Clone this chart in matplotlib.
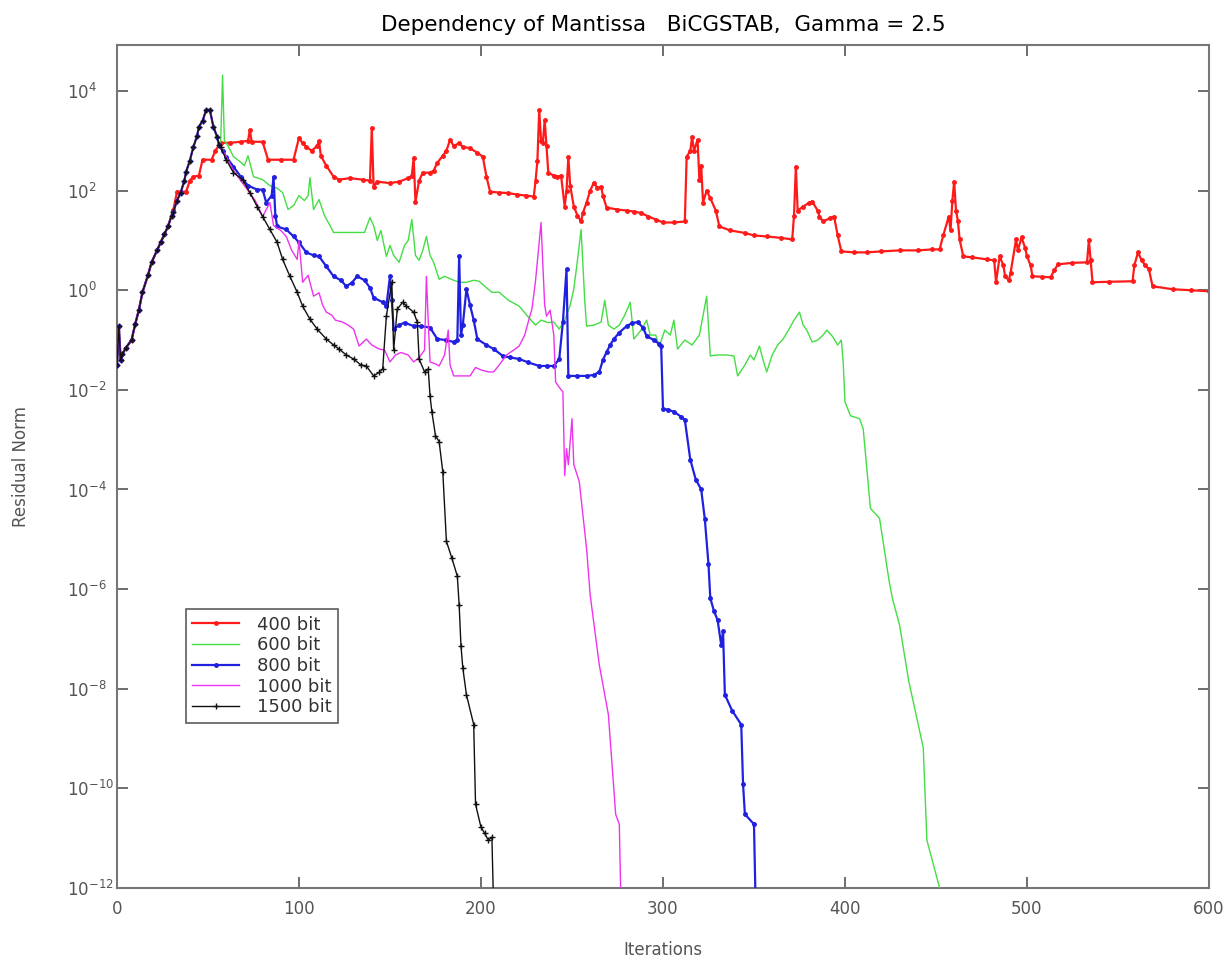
import matplotlib
matplotlib.use("Agg")
import matplotlib.pyplot as plt
from matplotlib.ticker import NullLocator
import numpy as np

plt.rcParams['font.family'] = ['DejaVu Sans']
plt.rcParams['mathtext.default'] = 'regular'

# common start of every run (iteration, log10 residual)
start_it = [0, 1, 2, 3, 5, 8, 10, 12, 14, 17, 19, 22, 24, 26, 28, 30]
start_lg = [-1.5, -0.72, -1.4, -1.28, -1.15, -1.0, -0.68, -0.4, -0.04, 0.3, 0.56, 0.8, 0.96, 1.12, 1.28, 1.5]

# shared rise up to the peak (all but 400 bit)
peak_it = [31, 33, 35, 37, 38, 40, 42, 44, 45, 47, 49, 51, 53, 55, 56]
peak_lg = [1.58, 1.8, 1.96, 2.2, 2.38, 2.6, 2.88, 3.1, 3.28, 3.4, 3.62, 3.62, 3.28, 3.08, 2.92]

# 400 bit
it400 = [31, 33, 38, 40, 42, 45, 47, 52, 54, 57, 62, 68, 72, 73, 74, 80, 83, 90, 97, 100,
         102, 104, 107, 110, 111, 112, 115, 119, 122, 128, 135, 139, 140, 141, 143, 150, 155, 160, 162, 163,
         164, 166, 168, 172, 174, 176, 179, 181, 183, 185, 188, 190, 194, 198, 201, 203, 205, 210, 215, 220,
         225, 229, 230, 231, 232, 233, 234, 235, 236, 237, 240, 242, 244, 246, 247, 248, 249, 251, 253, 255,
         256, 258, 260, 262, 264, 266, 267, 269, 275, 280, 284, 288, 292, 296, 300, 306, 312, 313, 315, 316,
         317, 319, 320, 321, 322, 324, 326, 329, 331, 337, 345, 350, 357, 365, 371, 372, 373, 374, 377, 380,
         382, 385, 386, 388, 392, 394, 396, 398, 405, 412, 420, 430, 440, 448, 452, 454, 457, 458, 459, 460,
         461, 462, 463, 465, 470, 478, 482, 483, 485, 487, 488, 490, 491, 494, 495, 497, 499, 500, 502, 503,
         508, 513, 515, 517, 525, 533, 534, 535, 536, 545, 558, 559, 561, 563, 565, 567, 569, 580, 590, 600]
lg400 = [1.62, 1.98, 1.98, 2.2, 2.28, 2.3, 2.62, 2.62, 2.8, 2.96, 2.96, 2.98, 3.0, 3.22, 2.98, 2.98, 2.62, 2.62, 2.62, 3.06,
         2.95, 2.88, 2.8, 2.9, 3.0, 2.7, 2.5, 2.28, 2.22, 2.25, 2.22, 2.2, 3.26, 2.08, 2.18, 2.15, 2.18, 2.25, 2.3, 2.66,
         1.78, 2.2, 2.36, 2.36, 2.4, 2.56, 2.7, 2.8, 3.02, 2.9, 2.95, 2.88, 2.85, 2.76, 2.68, 2.28, 1.98, 1.96, 1.95, 1.92,
         1.9, 1.88, 2.2, 2.6, 3.62, 3.0, 2.96, 3.42, 2.9, 2.36, 2.3, 2.28, 2.3, 1.68, 2.0, 2.68, 2.1, 1.68, 1.5, 1.38,
         1.55, 1.76, 2.0, 2.16, 2.05, 2.08, 1.9, 1.66, 1.62, 1.6, 1.58, 1.55, 1.48, 1.42, 1.36, 1.36, 1.38, 2.68, 2.8, 3.08,
         2.8, 3.02, 2.22, 2.5, 1.76, 2.0, 1.85, 1.6, 1.28, 1.2, 1.15, 1.1, 1.08, 1.05, 1.02, 1.5, 2.48, 1.6, 1.68, 1.75,
         1.78, 1.6, 1.48, 1.38, 1.45, 1.48, 1.1, 0.78, 0.76, 0.76, 0.78, 0.8, 0.8, 0.82, 0.82, 1.1, 1.48, 1.2, 1.8, 2.18,
         1.6, 1.4, 1.02, 0.68, 0.66, 0.62, 0.6, 0.16, 0.68, 0.5, 0.28, 0.2, 0.35, 1.02, 0.8, 1.06, 0.85, 0.68, 0.5, 0.28,
         0.27, 0.26, 0.4, 0.52, 0.55, 0.56, 1.0, 0.6, 0.16, 0.17, 0.18, 0.5, 0.76, 0.6, 0.5, 0.42, 0.08, 0.02, 0.0, -0.02]

# 600 bit
it600 = [57, 58, 59, 61, 64, 67, 70, 72, 75, 80, 84, 88, 91, 94, 97, 100, 103, 105, 106, 108,
         111, 114, 117, 119, 125, 130, 136, 139, 141, 143, 145, 148, 150, 152, 155, 158, 160, 162, 164, 166,
         168, 170, 172, 174, 177, 180, 185, 188, 192, 196, 199, 203, 206, 210, 215, 221, 224, 227, 230, 233,
         237, 240, 243, 246, 249, 251, 253, 255, 256, 257, 258, 262, 266, 268, 270, 273, 276, 279, 282, 284,
         288, 291, 293, 296, 298, 301, 304, 306, 308, 312, 316, 320, 324, 326, 330, 335, 339, 341, 345, 348,
         350, 353, 355, 357, 360, 363, 366, 369, 372, 375, 377, 379, 382, 385, 388, 390, 393, 396, 398, 399,
         400, 403, 408, 410, 414, 419, 422, 424, 426, 430, 435, 441, 443, 445, 452, 454]
lg600 = [3.0, 4.32, 3.0, 2.9, 2.68, 2.6, 2.5, 2.7, 2.28, 2.22, 2.1, 2.05, 1.96, 1.62, 1.7, 1.9, 1.8, 1.9, 2.26, 1.62,
         1.82, 1.5, 1.3, 1.16, 1.16, 1.16, 1.16, 1.46, 1.3, 1.0, 1.2, 0.68, 0.9, 0.7, 0.56, 0.9, 1.0, 1.42, 0.7, 0.6,
         0.8, 1.08, 0.7, 0.56, 0.22, 0.28, 0.2, 0.16, 0.16, 0.2, 0.18, 0.05, -0.04, -0.04, -0.2, -0.32, -0.45, -0.58, -0.7, -0.6,
         -0.65, -0.64, -0.78, -0.6, -0.3, 0.02, 0.6, 1.22, 0.5, -0.2, -0.72, -0.7, -0.64, -0.2, -0.7, -0.78, -0.7, -0.5, -0.24, -0.98,
         -0.8, -0.6, -0.9, -0.9, -1.12, -0.8, -0.9, -0.6, -1.18, -1.0, -1.1, -0.9, -0.12, -1.32, -1.3, -1.3, -1.32, -1.72, -1.5, -1.3,
         -1.4, -1.12, -1.4, -1.64, -1.3, -1.1, -0.98, -0.8, -0.6, -0.44, -0.7, -0.8, -1.04, -1.0, -0.9, -0.8, -0.92, -1.1, -1.0, -1.44,
         -2.24, -2.52, -2.58, -2.78, -4.38, -4.58, -5.3, -5.78, -6.18, -6.72, -7.84, -8.84, -9.18, -11.04, -12.0, -12.5]

# 800 bit
it800 = [58, 60, 64, 68, 72, 77, 80, 82, 85, 86, 87, 88, 93, 97, 100, 104, 108, 111, 115, 119,
         123, 126, 129, 132, 136, 139, 141, 146, 148, 150, 151, 152, 155, 158, 163, 167, 172, 176, 181, 185,
         187, 188, 189, 190, 192, 194, 196, 198, 203, 207, 212, 216, 221, 226, 232, 236, 240, 243, 245, 247,
         248, 253, 258, 262, 265, 267, 269, 271, 273, 276, 280, 283, 286, 289, 291, 295, 298, 299, 300, 303,
         306, 310, 312, 315, 318, 321, 323, 325, 326, 328, 330, 332, 333, 334, 338, 343, 344, 345, 350, 351]
lg800 = [2.8, 2.68, 2.48, 2.28, 2.1, 2.02, 2.02, 1.76, 1.9, 2.28, 1.5, 1.28, 1.22, 1.08, 0.96, 0.76, 0.7, 0.68, 0.48, 0.28,
         0.2, 0.08, 0.15, 0.28, 0.2, 0.05, -0.15, -0.24, -0.32, 0.28, -0.2, -0.78, -0.7, -0.65, -0.72, -0.72, -0.75, -0.98, -1.0, -1.04,
         -1.0, 0.68, -0.9, -0.7, 0.02, -0.3, -0.6, -0.98, -1.1, -1.18, -1.32, -1.35, -1.38, -1.45, -1.52, -1.52, -1.52, -1.38, -0.64, 0.42,
         -1.72, -1.72, -1.72, -1.7, -1.64, -1.4, -1.24, -1.1, -0.98, -0.85, -0.72, -0.66, -0.64, -0.75, -0.92, -1.0, -1.08, -1.12, -2.38, -2.4,
         -2.44, -2.54, -2.6, -3.4, -3.8, -4.0, -4.6, -5.5, -6.18, -6.44, -6.62, -7.12, -6.84, -8.12, -8.44, -8.72, -9.92, -10.52, -10.72, -12.5]

# 1000 bit
it1000 = [58, 60, 64, 68, 72, 76, 80, 84, 86, 90, 93, 96, 99, 100, 102, 105, 108, 111, 113, 115,
          118, 120, 124, 127, 130, 133, 137, 140, 144, 147, 150, 153, 156, 160, 163, 166, 169, 170, 171, 172,
          175, 177, 180, 182, 183, 185, 190, 194, 197, 200, 204, 207, 210, 214, 218, 221, 224, 227, 228, 230,
          233, 234, 235, 236, 238, 240, 241, 243, 245, 246, 247, 248, 250, 251, 254, 258, 260, 265, 270, 274,
          276, 277]
lg1000 = [2.8, 2.68, 2.4, 2.2, 2.0, 1.8, 1.48, 1.76, 1.3, 1.2, 1.08, 0.8, 0.62, 1.0, 0.16, 0.3, -0.12, -0.05, -0.3, -0.44,
          -0.5, -0.6, -0.64, -0.7, -0.78, -1.12, -0.98, -1.1, -1.18, -1.2, -1.44, -1.3, -1.25, -1.3, -1.44, -1.35, -1.2, 0.28, -0.6, -1.44,
          -1.48, -1.52, -1.3, -0.8, -1.5, -1.72, -1.72, -1.72, -1.55, -1.6, -1.64, -1.64, -1.5, -1.3, -1.2, -1.12, -0.9, -0.5, -0.38, 0.2,
          1.36, 0.5, -0.3, -0.52, -0.4, -0.9, -1.84, -1.95, -2.04, -3.72, -3.18, -3.5, -2.58, -3.5, -3.84, -5.18, -6.12, -7.52, -8.52, -10.52,
          -10.72, -12.5]

# 1500 bit
it1500 = [57, 60, 64, 69, 73, 77, 80, 84, 88, 91, 95, 99, 102, 106, 110, 115, 119, 122, 126, 130,
          134, 137, 141, 144, 146, 148, 151, 152, 154, 157, 159, 163, 165, 166, 169, 171, 172, 173, 175, 177,
          179, 181, 184, 187, 188, 189, 190, 192, 196, 197, 200, 202, 204, 206, 207]
lg1500 = [2.88, 2.62, 2.36, 2.22, 1.96, 1.68, 1.48, 1.22, 0.96, 0.62, 0.28, -0.04, -0.32, -0.58, -0.78, -0.98, -1.1, -1.18, -1.3, -1.38,
          -1.5, -1.52, -1.72, -1.65, -1.58, -0.52, 0.16, -1.2, -0.38, -0.24, -0.32, -0.44, -0.64, -1.38, -1.64, -1.58, -2.12, -2.44, -2.92, -3.04,
          -3.64, -5.04, -5.38, -5.74, -6.32, -7.14, -7.58, -8.12, -8.72, -10.32, -10.78, -10.9, -11.04, -10.98, -12.5]

labels = ['400 bit', '600 bit', '800 bit', '1000 bit', '1500 bit']
x_ticks = [0, 100, 200, 300, 400, 500, 600]
y_exps = [-12, -10, -8, -6, -4, -2, 0, 2, 4]


def full(tail_it, tail_lg, with_peak=True):
    xs = start_it + (peak_it if with_peak else []) + tail_it
    ys = start_lg + (peak_lg if with_peak else []) + tail_lg
    return np.array(xs), 10.0 ** np.array(ys)


fig = plt.figure(figsize=(12.29, 9.61), dpi=100)
ax = fig.add_axes([0.0952, 0.076, 0.8885, 0.877])

x, y = full(it400, lg400, with_peak=False)
ax.plot(x, y, color='#ff1a1a', lw=1.6, marker='.', ms=5, label=labels[0], zorder=2)
x, y = full(it600, lg600)
ax.plot(x, y, color='#44dd44', lw=1.0, label=labels[1], zorder=3)
x, y = full(it800, lg800)
ax.plot(x, y, color='#2020e0', lw=1.6, marker='.', ms=5, label=labels[2], zorder=4)
x, y = full(it1000, lg1000)
ax.plot(x, y, color='#ee33ee', lw=1.0, label=labels[3], zorder=5)
x, y = full(it1500, lg1500)
ax.plot(x, y, color='#111111', lw=1.0, marker='+', ms=4, mew=1, label=labels[4], zorder=6)

ax.set_yscale('log')
ax.set_xlim(0, 600)
ax.set_ylim(1e-12, 10 ** 4.92)
ax.set_xticks(x_ticks)
ax.set_yticks([10.0 ** k for k in y_exps],
              labels=['$10^{%d}$' % k for k in y_exps], ha='left')
ax.yaxis.set_minor_locator(NullLocator())

ax.tick_params(direction='in', length=8, width=1.2, top=True, right=True,
               labelsize=12, colors='#555555')
ax.tick_params(axis='x', pad=9)
ax.tick_params(axis='y', pad=36)
for s in ax.spines.values():
    s.set_color('#777777')
    s.set_linewidth(1.5)

ax.set_xlabel('Iterations', fontsize=12, color='#555555', va='top')
ax.xaxis.set_label_coords(0.5, -0.063)
ax.set_ylabel('Residual Norm', fontsize=12, color='#555555')
ax.yaxis.set_label_coords(-0.080, 0.5)
ax.set_title('Dependency of Mantissa   BiCGSTAB,  Gamma = 2.5', fontsize=15.5, pad=10)

leg = ax.legend(loc='lower left', bbox_to_anchor=(0.063, 0.196), borderaxespad=0,
                fancybox=False, fontsize=13, handlelength=2.6, labelspacing=0.15,
                borderpad=0.35, handletextpad=1.0)
leg.get_frame().set_edgecolor('#333333')
leg.get_frame().set_linewidth(1.2)
for t in leg.get_texts():
    t.set_color('#333333')

fig.savefig('out.png', dpi=100)
